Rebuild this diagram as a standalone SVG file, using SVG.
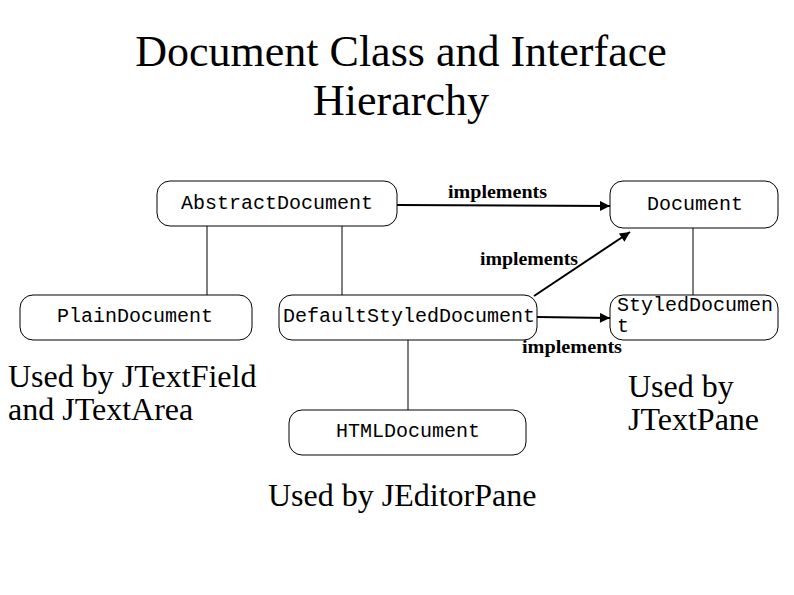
<svg xmlns="http://www.w3.org/2000/svg" width="794" height="595" viewBox="0 0 794 595">
<defs>
<style>
.box{fill:#fff;stroke:#000;stroke-width:1}
.mono{font-family:"Liberation Mono","Courier New",monospace;font-size:20px;fill:#000}
.title{font-family:"Liberation Serif","Times New Roman",serif;font-size:44px;fill:#000;text-anchor:middle}
.note{font-family:"Liberation Serif","Times New Roman",serif;font-size:32px;fill:#000}
.lbl{font-family:"Liberation Serif","Times New Roman",serif;font-size:18px;font-weight:bold;fill:#000}
.ln{stroke:#000;stroke-width:1;fill:none}
.arr{stroke:#000;stroke-width:2;fill:none;marker-end:url(#ah)}
</style>
<marker id="ah" viewBox="0 0 10 10" refX="10" refY="5" markerWidth="6" markerHeight="5" orient="auto" markerUnits="strokeWidth">
<path d="M0,0 L10,5 L0,10 z" fill="#000"/>
</marker>
</defs>
<rect width="794" height="595" fill="#fff"/>
<g id="title">
<text class="title" x="401" y="66">Document Class and Interface</text>
<text class="title" x="401" y="115">Hierarchy</text>
</g>
<g id="connectors">
<line class="ln" x1="207" y1="226" x2="207" y2="295"/>
<line class="ln" x1="342" y1="226" x2="342" y2="295"/>
<line class="ln" x1="693" y1="228" x2="693" y2="295"/>
<line class="ln" x1="408" y1="340" x2="408" y2="410"/>
<line class="arr" x1="397" y1="205" x2="610" y2="206"/>
<line class="arr" x1="534" y1="296" x2="630" y2="232"/>
<line class="arr" x1="537" y1="317" x2="610" y2="318"/>
<text class="lbl" x="448" y="198" textLength="99" lengthAdjust="spacingAndGlyphs">implements</text>
<text class="lbl" x="480" y="265" textLength="98" lengthAdjust="spacingAndGlyphs">implements</text>
<text class="lbl" x="522" y="353" textLength="100" lengthAdjust="spacingAndGlyphs">implements</text>
</g>
<g id="AbstractDocument">
<rect class="box" x="157" y="181" width="240" height="45" rx="13"/>
<text class="mono" x="181" y="209">AbstractDocument</text>
</g>
<g id="Document">
<rect class="box" x="610" y="181" width="168" height="47" rx="13"/>
<text class="mono" x="647" y="210">Document</text>
</g>
<g id="PlainDocument">
<rect class="box" x="20" y="295" width="232" height="45" rx="13"/>
<text class="mono" x="57" y="322">PlainDocument</text>
</g>
<g id="DefaultStyledDocument">
<rect class="box" x="279" y="295" width="258" height="45" rx="13"/>
<text class="mono" x="283" y="322">DefaultStyledDocument</text>
</g>
<g id="StyledDocument">
<rect class="box" x="610" y="295" width="168" height="45" rx="13"/>
<text class="mono" x="617" y="311">StyledDocumen</text>
<text class="mono" x="617" y="332">t</text>
</g>
<g id="HTMLDocument">
<rect class="box" x="289" y="410" width="237" height="45" rx="13"/>
<text class="mono" x="336" y="437">HTMLDocument</text>
</g>
<g id="notes">
<text class="note" x="8" y="387">Used by JTextField</text>
<text class="note" x="8" y="420">and JTextArea</text>
<text class="note" x="628" y="397">Used by</text>
<text class="note" x="628" y="430">JTextPane</text>
<text class="note" x="268" y="506">Used by JEditorPane</text>
</g>
</svg>
